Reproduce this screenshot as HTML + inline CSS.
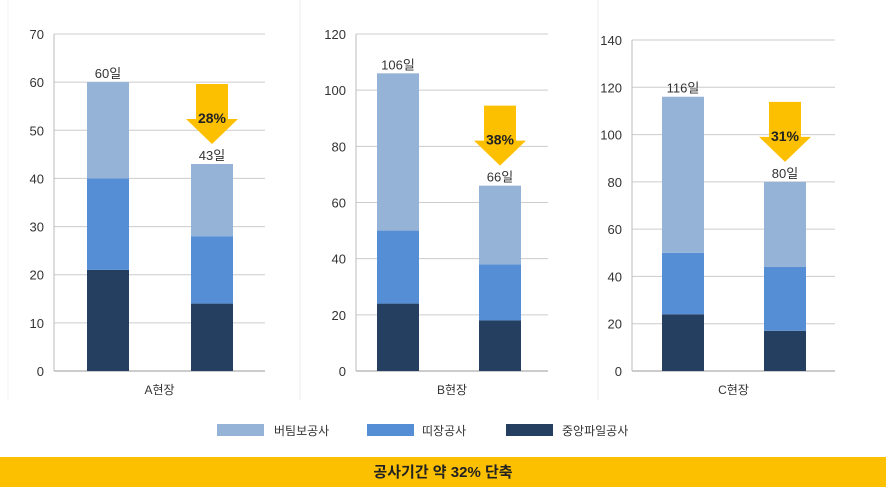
<!DOCTYPE html>
<html><head><meta charset="utf-8"><style>
body{margin:0;background:#fff;width:886px;height:493px;overflow:hidden;font-family:"Liberation Sans","Noto Sans CJK KR",sans-serif}
</style></head><body>
<svg width="886" height="493" style="position:absolute;left:0;top:0;font-family:'Liberation Sans','Noto Sans CJK KR',sans-serif">
<line x1="300" y1="0" x2="300" y2="400" stroke="#eee"/>
<line x1="598" y1="0" x2="598" y2="400" stroke="#eee"/>
<line x1="8" y1="0" x2="8" y2="400" stroke="#f0f0f0"/>
<g id="charts"></g>
<g>
<rect x="217" y="424" width="47" height="12" fill="#95b3d7"/>
<text x="274" y="435" font-size="12" fill="#333">버팀보공사</text>
<rect x="367" y="424" width="47" height="12" fill="#558ed5"/>
<text x="422" y="435" font-size="12" fill="#333">띠장공사</text>
<rect x="506" y="424" width="47" height="12" fill="#243f60"/>
<text x="562" y="435" font-size="12" fill="#333">중앙파일공사</text>
</g>
<rect x="0" y="457" width="886" height="30" fill="#fdc000"/>
<text x="443" y="477" font-size="15" font-weight="bold" text-anchor="middle" fill="#222">공사기간 약 32% 단축</text>
</svg>
<script>
const categories=["A현장","B현장","C현장"];
const pileValues=[[21,14],[24,18],[24,17]];
const waleValues=[[19,14],[26,20],[26,27]];
const buttressValues=[[20,15],[56,28],[66,36]];
const reductionLabels=["28%","38%","31%"];
const axisMax=[70,120,140];
const tickStep=[10,20,20];
const panels=[{x0:54,x1:265,yTop:34,bars:[87,191]},{x0:356,x1:548,yTop:34,bars:[377,479]},{x0:632,x1:835,yTop:40,bars:[662,764]}];
const NS="http://www.w3.org/2000/svg",g=document.getElementById('charts');
function mk(t,a,p){const e=document.createElementNS(NS,t);for(const k in a)e.setAttribute(k,a[k]);(p||g).appendChild(e);return e;}
const y0=371,bw=42,colors=["#243f60","#558ed5","#95b3d7"];
categories.forEach((cat,i)=>{
 const P=panels[i],max=axisMax[i];
 const Y=v=>y0-(y0-P.yTop)*v/max;
 for(let v=0;v<=max;v+=tickStep[i]){
  const l=mk('line',{x1:P.x0,x2:P.x1,y1:Y(v),y2:Y(v),stroke:v===0?'#999':'#ccc'});
  
  const t=mk('text',{x:P.x0-10,y:Y(v)+5,'font-size':13,'text-anchor':'end',fill:'#333'});t.textContent=v;
  
 }
 const ax=mk('line',{x1:P.x0,x2:P.x0,y1:P.yTop,y2:y0,stroke:'#bbb'});
 
 const cl=mk('text',{x:(P.x0+P.x1)/2,y:394,'font-size':12,'text-anchor':'middle',fill:'#333'});cl.textContent=cat;
 
 for(let b=0;b<2;b++){
  const vals=[pileValues[i][b],waleValues[i][b],buttressValues[i][b]];let acc=0;
  vals.forEach((v,s)=>{
   const r=mk('rect',{x:P.bars[b],y:Y(acc+v),width:bw,height:Y(acc)-Y(acc+v),fill:colors[s]});
   acc+=v;
  });
  const tl=mk('text',{x:P.bars[b]+bw/2,y:Y(acc)-4,'font-size':13,'text-anchor':'middle',fill:'#333'});tl.textContent=acc+'일';
  
 }
 const cx=P.bars[1]+bw/2,tip=Y(buttressValues[i][1]+waleValues[i][1]+pileValues[i][1])-20,top=tip-60;
 const ar=mk('polygon',{points:`${cx-16},${top} ${cx+16},${top} ${cx+16},${top+35} ${cx+26},${top+35} ${cx},${tip} ${cx-26},${top+35} ${cx-16},${top+35}`,fill:'#fdc000'});
 
 const at=mk('text',{x:cx,y:top+39,'font-size':14,'font-weight':'bold','text-anchor':'middle',fill:'#222'});at.textContent=reductionLabels[i];
 
});
</script>
</body></html>
